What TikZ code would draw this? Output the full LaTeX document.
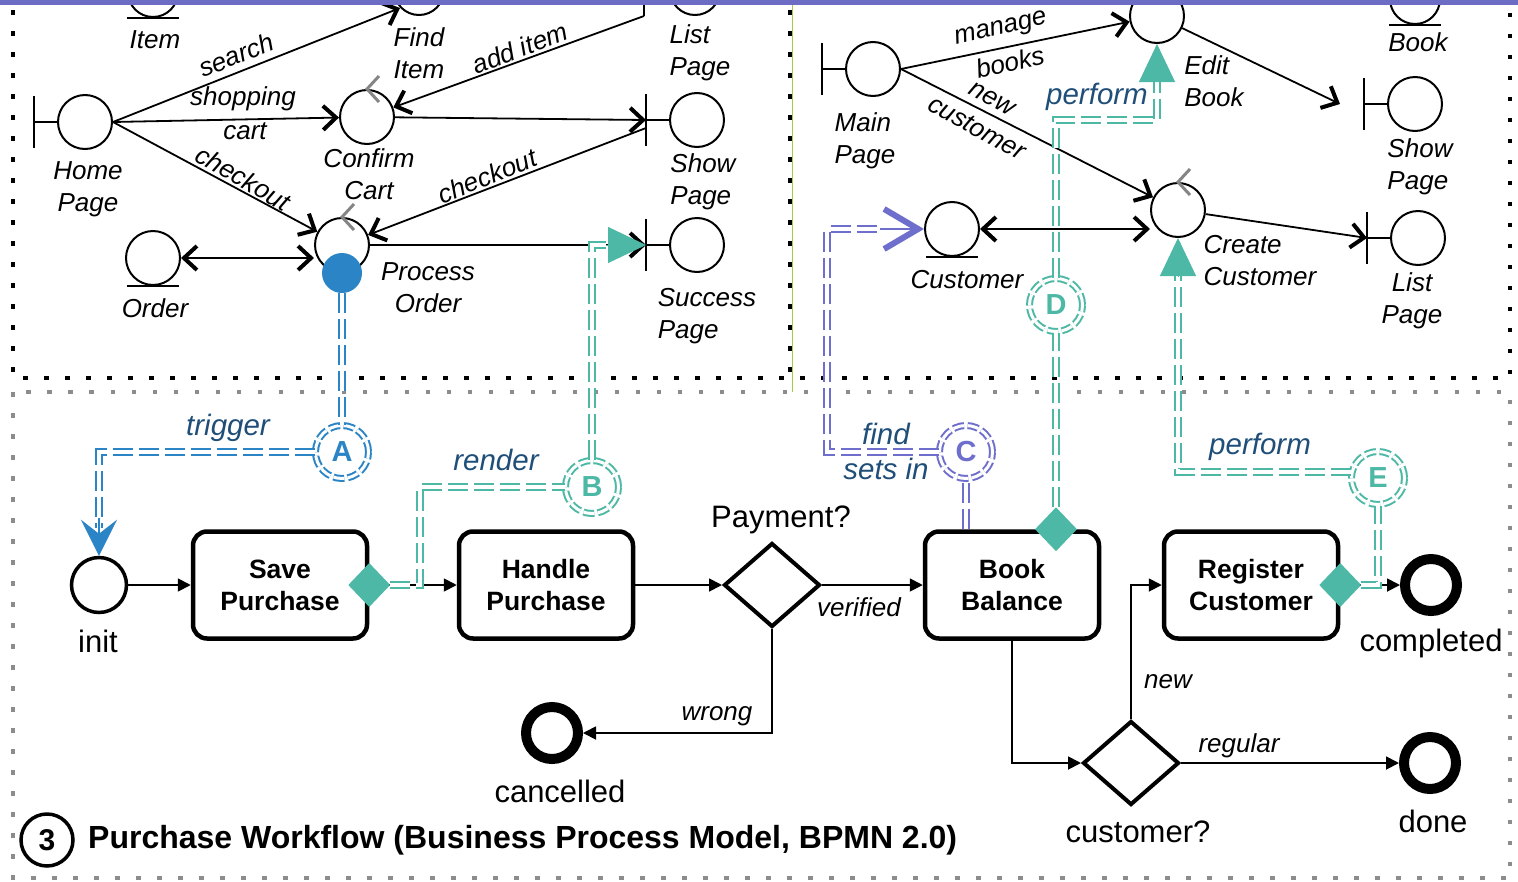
\documentclass[tikz,border=0pt]{standalone}
\usepackage{fontspec}
\setmainfont{Liberation Sans}
\usetikzlibrary{arrows.meta,shapes.geometric}

\definecolor{tealc}{HTML}{4DB8A5}
\definecolor{bluec}{HTML}{2A84C5}
\definecolor{purpc}{HTML}{6E6ECC}
\definecolor{notec}{HTML}{1F4E79}
\definecolor{barc}{HTML}{6C6CC4}
\definecolor{markc}{HTML}{858585}
\definecolor{framec}{HTML}{8C8C8C}
\definecolor{limec}{HTML}{A8C846}

\newcommand\robfont{\fontsize{26}{32}\selectfont\itshape}
\newcommand\evfont{\fontsize{31}{36}\selectfont}
\newcommand\taskfont{\fontsize{26.5}{32}\selectfont\bfseries}
\newcommand\flowfont{\fontsize{26}{30}\selectfont\itshape}
\newcommand\notefont{\fontsize{29.5}{34}\selectfont\itshape}
\newcommand\letterfont{\fontsize{29}{34}\selectfont\bfseries}

% boundary bar: #1 node, #2 name of the bar coordinate
\newcommand\boundarybar[2]{%
  \coordinate (#2) at ([xshift=-51pt]#1.center);
  \draw[line width=2pt] ([yshift=26pt]#2) -- ([yshift=-26pt]#2);
  \draw[line width=2pt] (#2) -- (#1.west);}
% entity underline
\newcommand\entityline[1]{%
  \draw[line width=2pt] ([xshift=-26pt]#1.south) -- ([xshift=26pt]#1.south);}
% control mark on top of a circle
\newcommand\controlmark[1]{%
  \draw[markc,line width=3pt] ([shift={(12,-13)}]#1.north) -- (#1.north) -- ([shift={(12,13)}]#1.north);}

\begin{document}
\begin{tikzpicture}[x=1pt,y=-1pt,
  rob/.style={circle,draw,line width=2pt,minimum size=54pt,inner sep=0pt,fill=white},
  robs/.style={rob,minimum size=50pt},
  rtext/.style={font=\robfont,inner sep=0pt},
  redge/.style={line width=1.8pt,-{Straight Barb[length=13pt,width=24pt,line width=4pt]}},
  redgetwo/.style={line width=1.8pt,{Straight Barb[length=13pt,width=24pt,line width=4pt]}-{Straight Barb[length=13pt,width=24pt,line width=4pt]}},
  btask/.style={rectangle,rounded corners=14pt,draw,line width=4.5pt,minimum width=174pt,minimum height=107pt,align=center,font=\taskfont,inner sep=0pt},
  bgate/.style={diamond,draw,line width=4pt,minimum width=96pt,minimum height=84pt,inner sep=0pt},
  endev/.style={circle,draw,line width=10pt,minimum size=52pt,inner sep=0pt},
  startev/.style={circle,draw,line width=3.5pt,minimum size=55pt,inner sep=0pt},
  bflow/.style={line width=1.8pt,-{Triangle[length=13pt,width=13pt]}},
  evlab/.style={font=\evfont,inner sep=0pt},
  flab/.style={font=\flowfont,inner sep=0pt},
  tdiam/.style={diamond,fill=tealc,minimum width=42pt,minimum height=44pt,inner sep=0pt},
  trace/.style={draw=#1,double,double distance=3.6pt,line width=2.1pt,dash pattern=on 20pt off 6pt},
  notecirc/.style={circle,draw=#1,text=#1,fill=white,double,double distance=3pt,line width=2pt,dash pattern=on 11pt off 3.5pt,minimum size=53pt,inner sep=0pt,font=\letterfont},
  nlab/.style={font=\notefont,text=notec,inner sep=0pt},
  tealtip/.style={tealc,line width=1pt,-{Triangle[length=38pt,width=36pt]}},
  dots/.style={line width=4.5pt,dash pattern=on 4.5pt off 16.5pt},
]
\useasboundingbox (0,0) rectangle (1518,881);

% ---------- frames ----------
\draw[dots] (13,10) -- (13,378) -- (1510,378) -- (1510,10);
\draw[dots] (790,10) -- (790,378);
\draw[dots,framec] (13,392) rectangle (1510,878);
\draw[limec,line width=1pt] (792,0) -- (792,392);

% ---------- shopping robustness diagram ----------
\node[robs] (item) at (153,-8) {};
\node[robs] (find) at (419,-10) {};
\node[robs] (listL) at (695,-10) {};
\node[rob] (home) at (85,122) {};
\node[rob] (confirm) at (367,117) {};
\node[rob] (showL) at (697,120) {};
\node[rob] (process) at (342,245) {};
\node[rob] (success) at (697,245) {};
\node[rob] (order) at (153,258) {};
\node[circle,fill=bluec,minimum size=40pt,inner sep=0pt] (pdot) at (process.south) {};

\entityline{item}
\entityline{order}
\boundarybar{listL}{listLbar}
\boundarybar{home}{homebar}
\boundarybar{showL}{showLbar}
\boundarybar{success}{successbar}
\controlmark{confirm}
\controlmark{process}

\node[rtext] (t-item) at (155,40) {Item};
\node[rtext,align=left] (t-find) at (419,53) {Find\\Item};
\node[rtext,align=left] (t-listL) at (700,53) {List\\Page};
\node[rtext,align=center] (t-home) at (88,189) {Home\\Page};
\node[rtext,align=center] (t-confirm) at (369,174) {Confirm\\Cart};
\node[rtext,align=left] (t-showL) at (703,182) {Show\\Page};
\node[rtext,align=center] (t-process) at (428,288) {Process\\Order};
\node[rtext,align=left] (t-success) at (707,316) {Success\\Page};
\node[rtext] (t-order) at (155,308) {Order};

\draw[redge] (home.east) -- ([shift={(-19,18)}]find.center);
\draw[redge] (home.east) -- (confirm);
\draw[redge] (home.east) -- (process);
\draw[redge] ([yshift=-26pt]listLbar) -- (confirm);
\draw[redge] (confirm) -- (showLbar);
\draw[redge] ([yshift=-8pt]showLbar) -- (process);
\draw[redge] (process) -- (successbar);
\draw[redgetwo] (order.east) -- (order.east -| process.west);

\node[rtext,rotate=21.5] (l-search) at (236,55) {search};
\node[rtext] (l-shop) at (243,99) {shopping};
\node[rtext] (l-cart) at (245,131) {cart};
\node[rtext,rotate=-30] (l-check1) at (243,178) {checkout};
\node[rtext,rotate=21] (l-add) at (520,48) {add item};
\node[rtext,rotate=22] (l-check2) at (487,176) {checkout};

% ---------- book administration robustness diagram ----------
\node[rob] (mainp) at (873,69) {};
\node[rob] (edit) at (1157,16) {};
\node[robs] (book) at (1415,-1) {};
\node[rob] (showR) at (1415,104) {};
\node[rob] (create) at (1178,210) {};
\node[rob] (customer) at (952,229) {};
\node[rob] (listR) at (1418,238) {};

\entityline{book}
\entityline{customer}
\boundarybar{mainp}{mainbar}
\boundarybar{showR}{showRbar}
\boundarybar{listR}{listRbar}
\controlmark{create}

\node[rtext,align=left] (t-main) at (865,141) {Main\\Page};
\node[rtext,align=left] (t-edit) at (1214,81) {Edit\\Book};
\node[rtext] (t-book) at (1418,42) {Book};
\node[rtext,align=left] (t-showR) at (1420,167) {Show\\Page};
\node[rtext,align=left] (t-create) at (1260,261) {Create\\Customer};
\node[rtext] (t-customer) at (967,280) {Customer};
\node[rtext,align=center] (t-listR) at (1412,301) {List\\Page};

\draw[redge] (mainp.east) -- (edit);
\draw[redge] (mainp.east) -- (create);
\draw[redge] (edit) -- ([xshift=-24pt]showRbar);
\draw[redge] (create) -- (listRbar);
\draw[redgetwo] (customer.east) -- (customer.east -| create.west);

\node[rtext,rotate=13] (l-manage) at (1001,30) {manage};
\node[rtext,rotate=13] (l-books) at (1010,62) {books};
\node[rtext,rotate=-29] (l-new) at (992,99) {new};
\node[rtext,rotate=-29] (l-cust) at (977,128) {customer};

% ---------- purchase workflow (BPMN) ----------
\node[startev] (init) at (99,585) {};
\node[btask] (save) at (280,585) {Save\\Purchase};
\node[btask] (handle) at (546,585) {Handle\\Purchase};
\node[bgate] (payment) at (772,585) {};
\node[btask] (bookbal) at (1012,585) {Book\\Balance};
\node[btask] (register) at (1251,585) {Register\\Customer};
\node[endev] (completed) at (1431,585) {};
\node[endev] (cancelled) at (552,733) {};
\node[bgate] (custq) at (1131,763) {};
\node[endev] (done) at (1430,763) {};

\node[evlab] (t-init) at (98,641) {init};
\node[evlab] (t-payment) at (781,520) {Payment?};
\node[evlab] (t-completed) at (1431,643) {completed};
\node[evlab] (t-cancelled) at (560,791) {cancelled};
\node[evlab] (t-custq) at (1138,832) {customer?};
\node[evlab] (t-done) at (1433,821) {done};

\draw[bflow] (init) -- (save);
\draw[bflow] (save) -- (handle);
\draw[bflow] (handle) -- (payment);
\draw[bflow] (payment) -- (bookbal);
\draw[bflow] (payment.south) |- (cancelled);
\draw[bflow] (bookbal.south) |- (custq);
\draw[bflow] (custq.north) |- (register);
\draw[bflow] (custq) -- (done);
\draw[bflow] (register) -- (completed);

\node[flab] (l-verified) at (859,607) {verified};
\node[flab] (l-wrong) at (717,716) {wrong};
\node[flab] (l-newc) at (1168,682) {new};
\node[flab] (l-regular) at (1239,746) {regular};

\node[tdiam] (savemark) at (save.east) {};
\node[tdiam] (bookmark) at ([xshift=44pt]bookbal.north) {};
\node[tdiam] (regmark) at (register.east) {};

% ---------- trace links ----------
\node[notecirc=bluec] (noteA) at (342,452) {A};
\node[notecirc=tealc] (noteB) at (592,487) {B};
\node[notecirc=purpc] (noteC) at (966,452) {C};
\node[notecirc=tealc] (noteD) at (1056,305) {D};
\node[notecirc=tealc] (noteE) at (1378,478) {E};

% A: trigger
\coordinate (Aend) at (99,518);
\draw[trace=bluec] (pdot) -- (noteA);
\draw[trace=bluec] (noteA) -| ([yshift=-10pt]Aend);
\draw[bluec,line width=1.5pt,-{Stealth[length=36pt,width=36pt,inset=14pt]}] (Aend) -- (init);
\node[nlab] (l-trigger) at (228,428) {trigger};

% B: render
\coordinate (Bturn) at (420,487);
\coordinate (Bend) at (606,245);
\draw[trace=tealc] (savemark.east) -| (Bturn) -- (noteB);
\draw[trace=tealc] (noteB) |- (Bend);
\draw[tealtip] (Bend) -- (successbar);
\node[nlab] (l-render) at (496,460) {render};

% C: find / sets in
\coordinate (Cturn) at (827,229);
\coordinate (Cend) at (880,229);
\draw[trace=purpc] ([xshift=-46pt]bookbal.north) -- (noteC);
\draw[trace=purpc] (noteC) -| (Cturn) -- (Cend);
\draw[purpc,line width=1.5pt,-{Straight Barb[length=34pt,width=40pt,line width=6pt]}] (Cend) -- (customer);
\node[nlab] (l-find) at (886,434) {find};
\node[nlab] (l-setsin) at (886,469) {sets in};

% D: perform (edit book)
\coordinate (Dturn) at (1157,120);
\coordinate (Dend) at (1157,78);
\draw[trace=tealc] (bookmark.north) -- (noteD);
\draw[trace=tealc] (noteD) |- (Dturn) -- (Dend);
\draw[tealtip] (Dend) -- (edit);
\node[nlab] (l-perform1) at (1097,97) {perform};

% E: perform (create customer)
\coordinate (Eend) at (1178,276);
\draw[trace=tealc] (regmark.east) -| (noteE);
\draw[trace=tealc] ([yshift=6pt]noteE.west) -| (Eend);
\draw[tealtip] (Eend) -- (create);
\node[nlab] (l-perform2) at (1260,447) {perform};

% ---------- caption ----------
\node[circle,draw,line width=3.5pt,minimum size=52pt,inner sep=0pt,font=\fontsize{30}{34}\selectfont\bfseries] (num) at (47,840) {3};
\node[anchor=west,inner sep=0pt,font=\fontsize{32}{36}\selectfont\bfseries] (caption) at (88,840) {Purchase Workflow (Business Process Model, BPMN 2.0)};

% top rule
\fill[barc] (0,0) rectangle (1518,5);
\end{tikzpicture}
\end{document}
